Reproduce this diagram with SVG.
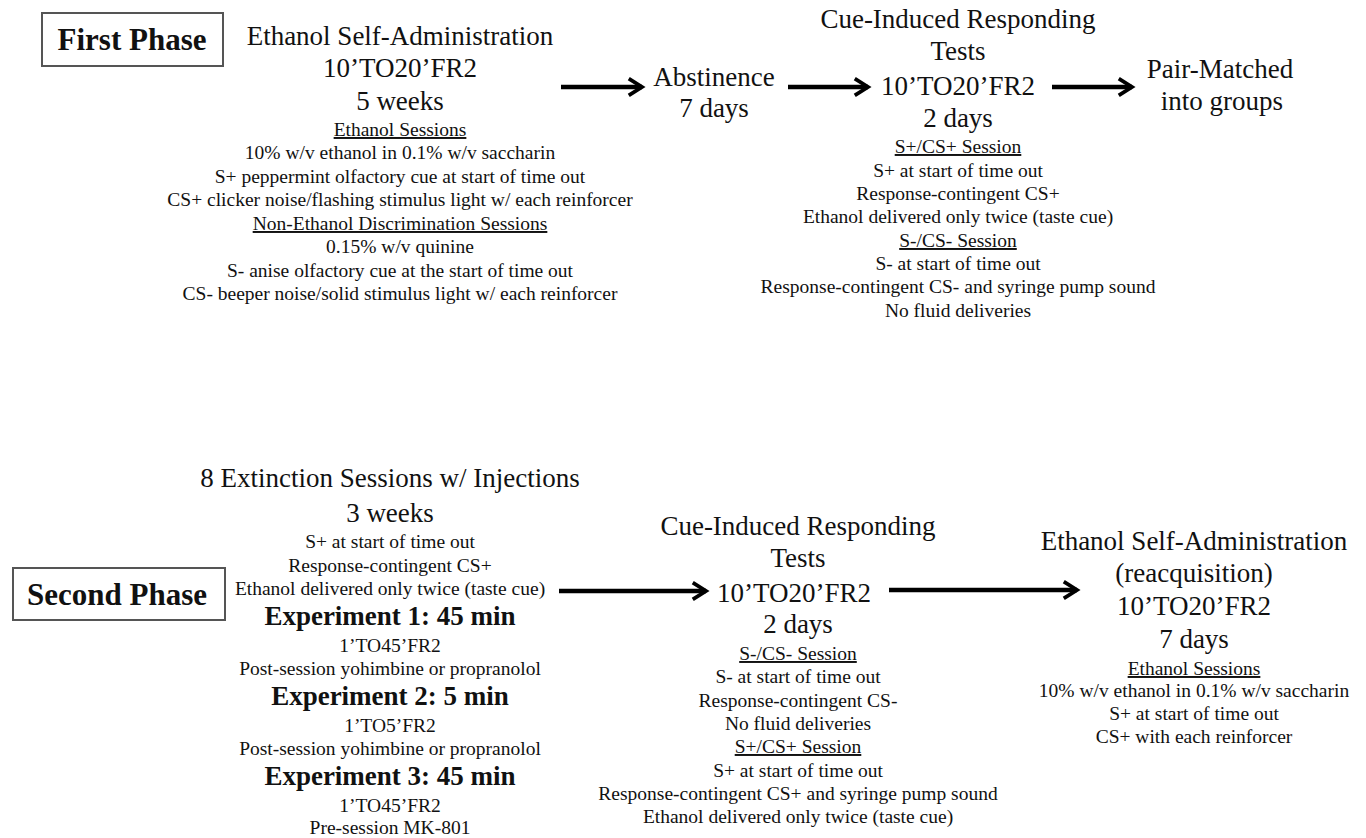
<svg xmlns="http://www.w3.org/2000/svg" width="1366" height="838" viewBox="0 0 1366 838">
<defs>
<style>
text{font-family:"Liberation Serif","Times New Roman",serif;fill:#111;text-anchor:middle}
.lg{font-size:27px}
.sm{font-size:19.5px}
.bd{font-size:27px;font-weight:bold}
.ph{font-size:31px;font-weight:bold}
.u{text-decoration:underline}
.box{fill:#fff;stroke:#555;stroke-width:2}
.arr{stroke:#000;stroke-width:4.5;fill:none;marker-end:url(#ah)}
</style>
<marker id="ah" viewBox="0 0 10 10" refX="8" refY="5" markerWidth="4.2" markerHeight="4.5" orient="auto" markerUnits="strokeWidth">
<path d="M1,0.6 L8,5 L1,9.4" fill="none" stroke="#000" stroke-width="2"/>
</marker>
</defs>
<rect width="1366" height="838" fill="#fff"/>

<g id="connectors">
<line class="arr" x1="561" y1="87" x2="642" y2="87"/>
<line class="arr" x1="788" y1="87" x2="868" y2="87"/>
<line class="arr" x1="1052" y1="87" x2="1132" y2="87"/>
<line class="arr" x1="559" y1="591" x2="706" y2="591"/>
<line class="arr" x1="889" y1="590" x2="1077" y2="590"/>
</g>

<g id="first-phase">
<rect class="box" x="42" y="13" width="181" height="53"/>
<text class="ph" x="132" y="50">First Phase</text>
</g>

<g id="self-admin">
<text class="lg" x="400" y="45">Ethanol Self-Administration</text>
<text class="lg" x="400" y="77">10’TO20’FR2</text>
<text class="lg" x="400" y="110">5 weeks</text>
<text class="sm u" x="400" y="136">Ethanol Sessions</text>
<text class="sm" x="400" y="159">10% w/v ethanol in 0.1% w/v saccharin</text>
<text class="sm" x="400" y="183">S+ peppermint olfactory cue at start of time out</text>
<text class="sm" x="400" y="206">CS+ clicker noise/flashing stimulus light w/ each reinforcer</text>
<text class="sm u" x="400" y="230">Non-Ethanol Discrimination Sessions</text>
<text class="sm" x="400" y="253">0.15% w/v quinine</text>
<text class="sm" x="400" y="277">S- anise olfactory cue at the start of time out</text>
<text class="sm" x="400" y="300">CS- beeper noise/solid stimulus light w/ each reinforcer</text>
</g>

<g id="abstinence">
<text class="lg" x="714" y="86">Abstinence</text>
<text class="lg" x="714" y="117">7 days</text>
</g>

<g id="cue-test-1">
<text class="lg" x="958" y="28">Cue-Induced Responding</text>
<text class="lg" x="958" y="60">Tests</text>
<text class="lg" x="958" y="95">10’TO20’FR2</text>
<text class="lg" x="958" y="127">2 days</text>
<text class="sm u" x="958" y="153">S+/CS+ Session</text>
<text class="sm" x="958" y="177">S+ at start of time out</text>
<text class="sm" x="958" y="200">Response-contingent CS+</text>
<text class="sm" x="958" y="223">Ethanol delivered only twice (taste cue)</text>
<text class="sm u" x="958" y="247">S-/CS- Session</text>
<text class="sm" x="958" y="270">S- at start of time out</text>
<text class="sm" x="958" y="293">Response-contingent CS- and syringe pump sound</text>
<text class="sm" x="958" y="317">No fluid deliveries</text>
</g>

<g id="pair-matched">
<text class="lg" x="1220" y="78">Pair-Matched</text>
<text class="lg" x="1222" y="110">into groups</text>
</g>

<g id="second-phase">
<rect class="box" x="13" y="568" width="212" height="52"/>
<text class="ph" x="117" y="605">Second Phase</text>
</g>

<g id="extinction">
<text class="lg" x="390" y="487">8 Extinction Sessions w/ Injections</text>
<text class="lg" x="390" y="522">3 weeks</text>
<text class="sm" x="390" y="548">S+ at start of time out</text>
<text class="sm" x="390" y="572">Response-contingent CS+</text>
<text class="sm" x="390" y="595">Ethanol delivered only twice (taste cue)</text>
<text class="bd" x="390" y="625">Experiment 1: 45 min</text>
<text class="sm" x="390" y="652">1’TO45’FR2</text>
<text class="sm" x="390" y="675">Post-session yohimbine or propranolol</text>
<text class="bd" x="390" y="705">Experiment 2: 5 min</text>
<text class="sm" x="390" y="732">1’TO5’FR2</text>
<text class="sm" x="390" y="755">Post-session yohimbine or propranolol</text>
<text class="bd" x="390" y="785">Experiment 3: 45 min</text>
<text class="sm" x="390" y="812">1’TO45’FR2</text>
<text class="sm" x="390" y="834">Pre-session MK-801</text>
</g>

<g id="cue-test-2">
<text class="lg" x="798" y="535">Cue-Induced Responding</text>
<text class="lg" x="798" y="567">Tests</text>
<text class="lg" x="794" y="602">10’TO20’FR2</text>
<text class="lg" x="798" y="633">2 days</text>
<text class="sm u" x="798" y="660">S-/CS- Session</text>
<text class="sm" x="798" y="683">S- at start of time out</text>
<text class="sm" x="798" y="707">Response-contingent CS-</text>
<text class="sm" x="798" y="730">No fluid deliveries</text>
<text class="sm u" x="798" y="753">S+/CS+ Session</text>
<text class="sm" x="798" y="777">S+ at start of time out</text>
<text class="sm" x="798" y="800">Response-contingent CS+ and syringe pump sound</text>
<text class="sm" x="798" y="823">Ethanol delivered only twice (taste cue)</text>
</g>

<g id="reacquisition">
<text class="lg" x="1194" y="550">Ethanol Self-Administration</text>
<text class="lg" x="1194" y="582">(reacquisition)</text>
<text class="lg" x="1194" y="615">10’TO20’FR2</text>
<text class="lg" x="1194" y="648">7 days</text>
<text class="sm u" x="1194" y="675">Ethanol Sessions</text>
<text class="sm" x="1194" y="697">10% w/v ethanol in 0.1% w/v saccharin</text>
<text class="sm" x="1194" y="720">S+ at start of time out</text>
<text class="sm" x="1194" y="743">CS+ with each reinforcer</text>
</g>
</svg>
